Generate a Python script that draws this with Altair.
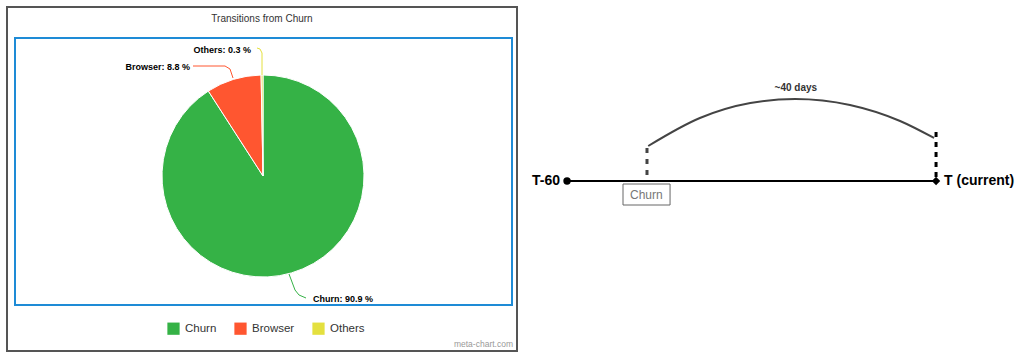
import altair as alt
import pandas as pd

# ---- data ----
categories = ["Churn", "Browser", "Others"]
shares = [90.9, 8.8, 0.3]
pie_labels = ["Churn: 90.9 %", "Browser: 8.8 %", "Others: 0.3 %"]
colors = ["#35b246", "#ff5630", "#e4e03f"]

# timeline (days relative to now)
t_start, t_now = -60, 0
churn_day = -47
arc_days = [-46.8, -38.4, -30.2, -22.9, -14.0, -5.85, -0.33]
arc_height = [35, 63, 78, 82, 76, 60, 43]

W, H = 1016, 357
FONT = "Liberation Sans"

xs = alt.Scale(domain=[-152.2, 13.0], nice=False, zero=False)
ys = alt.Scale(domain=[-176, 181], nice=False, zero=False)


def X(f):
    return alt.X(f, type="quantitative", scale=xs, axis=None)


def Y(f):
    return alt.Y(f, type="quantitative", scale=ys, axis=None)


one = pd.DataFrame({"k": [0]})

# ---- left panel: frames ----
outer = alt.Chart(one).mark_rect(fill="white", stroke="#555555", strokeWidth=2).encode(
    x=alt.value(7), x2=alt.value(517), y=alt.value(7), y2=alt.value(351))
inner = alt.Chart(one).mark_rect(fill="white", stroke="#1e8bd6", strokeWidth=2).encode(
    x=alt.value(15), x2=alt.value(512), y=alt.value(38), y2=alt.value(305))

title = alt.Chart(one).mark_text(text="Transitions from Churn", font=FONT, fontSize=10,
                                 color="#333333", align="center", baseline="middle").encode(
    x=alt.value(262), y=alt.value(19))
credit = alt.Chart(one).mark_text(text="meta-chart.com", font=FONT, fontSize=8.5,
                                  color="#999999", align="right", baseline="middle").encode(
    x=alt.value(513), y=alt.value(344))

pie_df = pd.DataFrame({"cat": categories, "share": shares, "ord": list(range(len(categories)))})
pie = alt.Chart(pie_df).mark_arc(outerRadius=101, stroke="white", strokeWidth=1).encode(
    theta=alt.Theta("share:Q", stack=True),
    order=alt.Order("ord:Q"),
    color=alt.Color("cat:N", scale=alt.Scale(domain=categories, range=colors),
                    legend=alt.Legend(orient="none", legendX=167, legendY=322,
                                      direction="horizontal", title=None,
                                      symbolType="square", symbolSize=150,
                                      symbolStrokeWidth=0, symbolOpacity=1,
                                      labelFont=FONT, labelFontSize=11.5,
                                      labelColor="#333333", labelOffset=5,
                                      columnPadding=17, padding=0)),
    x=alt.value(263), y=alt.value(176))

# connectors (pixel polylines, annotation styling)
connectors = [
    ([(289, 274), (295, 290), (299, 295), (306, 298)], colors[0]),
    ([(193, 66), (225, 66), (230, 69), (233, 78)], colors[1]),
    ([(257, 48), (260, 49), (262, 53), (262, 75)], colors[2]),
]
conn_layers = []
for pts, col in connectors:
    for (xa, ya), (xb, yb) in zip(pts[:-1], pts[1:]):
        conn_layers.append(alt.Chart(one).mark_rule(color=col, strokeWidth=1).encode(
            x=alt.value(xa), y=alt.value(ya), x2=alt.value(xb), y2=alt.value(yb)))

label_pos = [(313, 299, "left"), (190, 67, "right"), (251, 50, "right")]
label_layers = []
for (lx, ly, al), txt in zip(label_pos, pie_labels):
    label_layers.append(alt.Chart(one).mark_text(text=txt, font=FONT, fontSize=9, fontWeight="bold",
                                                 color="#000000", align=al, baseline="middle").encode(
        x=alt.value(lx), y=alt.value(ly)))

# ---- right panel: timeline ----
base_df = pd.DataFrame({"d": [t_start, t_now], "h": [0, 0]})
baseline = alt.Chart(base_df).mark_line(color="#000000", strokeWidth=2).encode(x=X("d"), y=Y("h"))

start_pt = alt.Chart(pd.DataFrame({"d": [t_start], "h": [0]})).mark_point(
    shape="circle", filled=True, size=55, color="#000000", opacity=1).encode(x=X("d"), y=Y("h"))
end_pt = alt.Chart(pd.DataFrame({"d": [t_now], "h": [0]})).mark_point(
    shape="diamond", filled=True, size=70, color="#000000", opacity=1).encode(x=X("d"), y=Y("h"))

t60 = alt.Chart(pd.DataFrame({"d": [t_start], "h": [0], "t": ["T-60"]})).mark_text(
    font=FONT, fontSize=14, fontWeight="bold", color="#000000", align="right",
    baseline="middle", dx=-7).encode(x=X("d"), y=Y("h"), text="t:N")
tnow = alt.Chart(pd.DataFrame({"d": [t_now], "h": [0], "t": ["T (current)"]})).mark_text(
    font=FONT, fontSize=14, fontWeight="bold", color="#000000", align="left",
    baseline="middle", dx=8).encode(x=X("d"), y=Y("h"), text="t:N")

churn_dash = alt.Chart(pd.DataFrame({"d": [churn_day], "h": [6], "h2": [36]})).mark_rule(
    color="#444444", strokeWidth=3, strokeDash=[5, 6]).encode(x=X("d"), y=Y("h"), y2="h2:Q")
now_dash = alt.Chart(pd.DataFrame({"d": [t_now], "h": [4], "h2": [53]})).mark_rule(
    color="#000000", strokeWidth=3, strokeDash=[5, 5]).encode(x=X("d"), y=Y("h"), y2="h2:Q")

arc_df = pd.DataFrame({"d": arc_days, "h": arc_height})
arc = alt.Chart(arc_df).mark_line(color="#444444", strokeWidth=2, interpolate="monotone").encode(
    x=X("d"), y=Y("h"))

days_lbl = alt.Chart(pd.DataFrame({"d": [-22.8], "h": [93], "t": ["~40 days"]})).mark_text(
    font=FONT, fontSize=10, fontWeight="bold", color="#333333", align="center",
    baseline="middle").encode(x=X("d"), y=Y("h"), text="t:N")

box = alt.Chart(pd.DataFrame({"d": [-50.9], "d2": [-43.25], "h": [-3], "h2": [-24]})).mark_rect(
    fill="white", stroke="#666666", strokeWidth=1).encode(x=X("d"), x2="d2:Q", y=Y("h"), y2="h2:Q")
box_txt = alt.Chart(pd.DataFrame({"d": [-47.1], "h": [-14], "t": ["Churn"]})).mark_text(
    font=FONT, fontSize=12, color="#777777", align="center", baseline="middle").encode(
    x=X("d"), y=Y("h"), text="t:N")

chart = alt.layer(
    outer, inner, title, credit, pie, *conn_layers, *label_layers,
    baseline, churn_dash, now_dash, arc, start_pt, end_pt, t60, tnow, days_lbl, box, box_txt
).properties(
    width=W, height=H, autosize=alt.AutoSizeParams(type="none"), padding=0, background="white"
).configure_view(stroke=None)

chart.save("out.html", embed_options={"renderer": "svg", "actions": False})
